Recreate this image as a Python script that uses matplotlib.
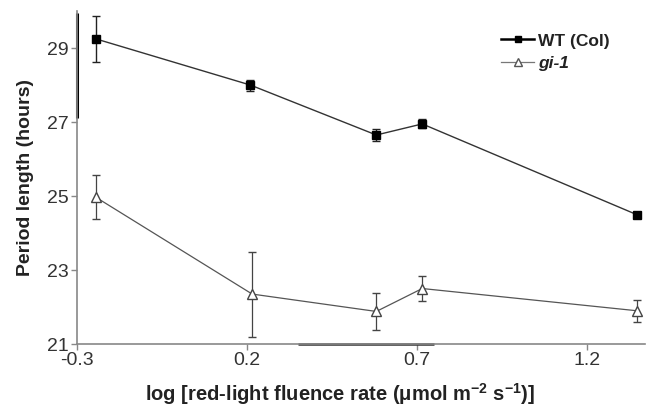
import numpy as np
import matplotlib.pyplot as plt
from matplotlib.lines import Line2D

plt.rcParams["font.family"] = ["Liberation Sans", "DejaVu Sans"]

# data
x_wt = [-0.245, 0.21, 0.58, 0.715, 1.345]
y_wt = [29.25, 28.0, 26.65, 26.95, 24.5]
e_wt = [0.62, 0.15, 0.15, 0.12, 0.08]

x_gi = [-0.245, 0.215, 0.58, 0.715, 1.345]
y_gi = [24.97, 22.35, 21.88, 22.5, 21.9]
e_gi = [0.6, 1.15, 0.5, 0.35, 0.3]

xticks = [-0.3, 0.2, 0.7, 1.2]
yticks = [21, 23, 25, 27, 29]

fig = plt.figure(figsize=(6.47, 4.11), dpi=100)
ax = fig.add_axes([0.119, 0.163, 0.878, 0.81])

ax.errorbar(x_wt, y_wt, yerr=e_wt, color="#333333", linewidth=1.0,
            marker="s", markersize=6, markerfacecolor="black",
            markeredgecolor="black", ecolor="#222222", elinewidth=1.0,
            capsize=3)
ax.errorbar(x_gi, y_gi, yerr=e_gi, color="#555555", linewidth=0.9,
            marker="^", markersize=7.5, markerfacecolor="white",
            markeredgecolor="#444444", ecolor="#444444", elinewidth=0.9,
            capsize=3)

ax.set_xlim(-0.3, 1.37)
ax.set_ylim(21, 30)
ax.set_xticks(xticks)
ax.set_xticklabels([f"{t:g}" for t in xticks])
ax.set_yticks(yticks)

for s in ["top", "right"]:
    ax.spines[s].set_visible(False)
ax.spines["left"].set_color("#888888")
ax.spines["bottom"].set_color("#888888")
ax.spines["left"].set_linewidth(1.2)
ax.spines["bottom"].set_linewidth(1.2)

# scan artefacts: thicker parts of the axis lines
ax.plot([-0.3, -0.3], [27.1, 29.95], color="black", linewidth=2.2,
        clip_on=False, solid_capstyle="butt")
ax.plot([0.35, 0.75], [21, 21], color="#333333", linewidth=1.8,
        clip_on=False, solid_capstyle="butt")

ax.tick_params(axis="both", direction="out", length=4, width=1,
               color="#888888", labelsize=14, labelcolor="#333333")
ax.tick_params(axis="x", pad=2)
ax.tick_params(axis="y", pad=2)

ax.set_ylabel("Period length (hours)", fontsize=14, fontweight="bold",
              color="#222222")
ax.yaxis.set_label_coords(-0.076, 0.5)
ax.set_xlabel(r"log [red-light fluence rate ($\mathregular{\mu}$mol m$^{\mathregular{-2}}$ s$^{\mathregular{-1}}$)]",
              fontsize=14.5, fontweight="bold", color="#222222")
ax.xaxis.set_label_coords(0.463, -0.11)

handles = [
    Line2D([], [], color="black", linewidth=1.8, marker="s", markersize=5,
           markerfacecolor="black"),
    Line2D([], [], color="#777777", linewidth=0.9, marker="^", markersize=6,
           markerfacecolor="white", markeredgecolor="#555555"),
]
leg = ax.legend(handles, ["WT (Col)", "gi-1"], loc="upper right",
                bbox_to_anchor=(0.965, 0.98), frameon=False, fontsize=12.5,
                handlelength=1.9, handletextpad=0.2, labelspacing=0.45)
for txt in leg.get_texts():
    txt.set_fontweight("bold")
    txt.set_color("#222222")
leg.get_texts()[1].set_fontstyle("italic")

fig.savefig("out.png", dpi=100)
